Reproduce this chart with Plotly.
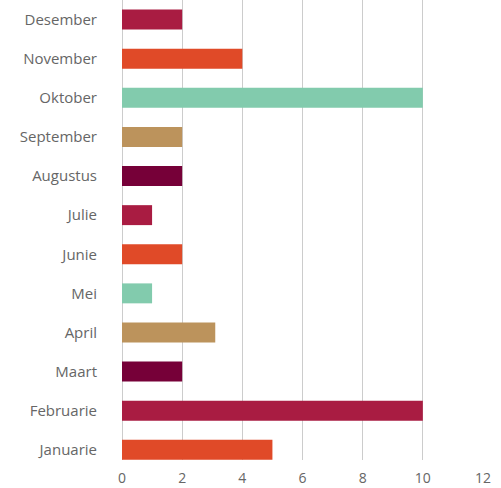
import plotly.graph_objects as go

months = ["Januarie", "Februarie", "Maart", "April", "Mei", "Junie",
          "Julie", "Augustus", "September", "Oktober", "November", "Desember"]
values = [5, 10, 2, 3.1, 1, 2, 1, 2, 2, 10, 4, 2]
palette = ["#E04A28", "#A91C42", "#760038", "#BC935C", "#82CBAD"]
colors = [palette[i % len(palette)] for i in range(len(months))]
x_ticks = [0, 2, 4, 6, 8, 10, 12]

fig = go.Figure(go.Bar(
    x=values, y=months, orientation="h",
    marker=dict(color=colors, line=dict(width=0)),
    width=0.51,
))

fig.update_layout(
    width=501, height=488,
    margin=dict(l=122, r=18, t=0, b=28, autoexpand=False),
    paper_bgcolor="white", plot_bgcolor="white",
    font=dict(family="Open Sans, Lato, sans-serif", size=15, color="#666666"),
    showlegend=False,
    bargap=0.49,
)
fig.update_xaxes(range=[0, 12], tickvals=x_ticks, showgrid=True,
                 gridcolor="#cccccc", gridwidth=1, zeroline=True,
                 zerolinecolor="#cccccc", zerolinewidth=1, automargin=False,
                 tickfont=dict(size=14), ticks="", showline=False,
                 ticklabelstandoff=8)
fig.update_yaxes(type="category", categoryorder="array", categoryarray=months,
                 range=[-0.26, 11.5], showgrid=False, ticks="", automargin=False,
                 ticklabelstandoff=24, tickfont=dict(size=15))

fig.write_html("out.html", config={"displayModeBar": False},
               post_script="document.body.style.margin='0';document.body.style.padding='0';")
